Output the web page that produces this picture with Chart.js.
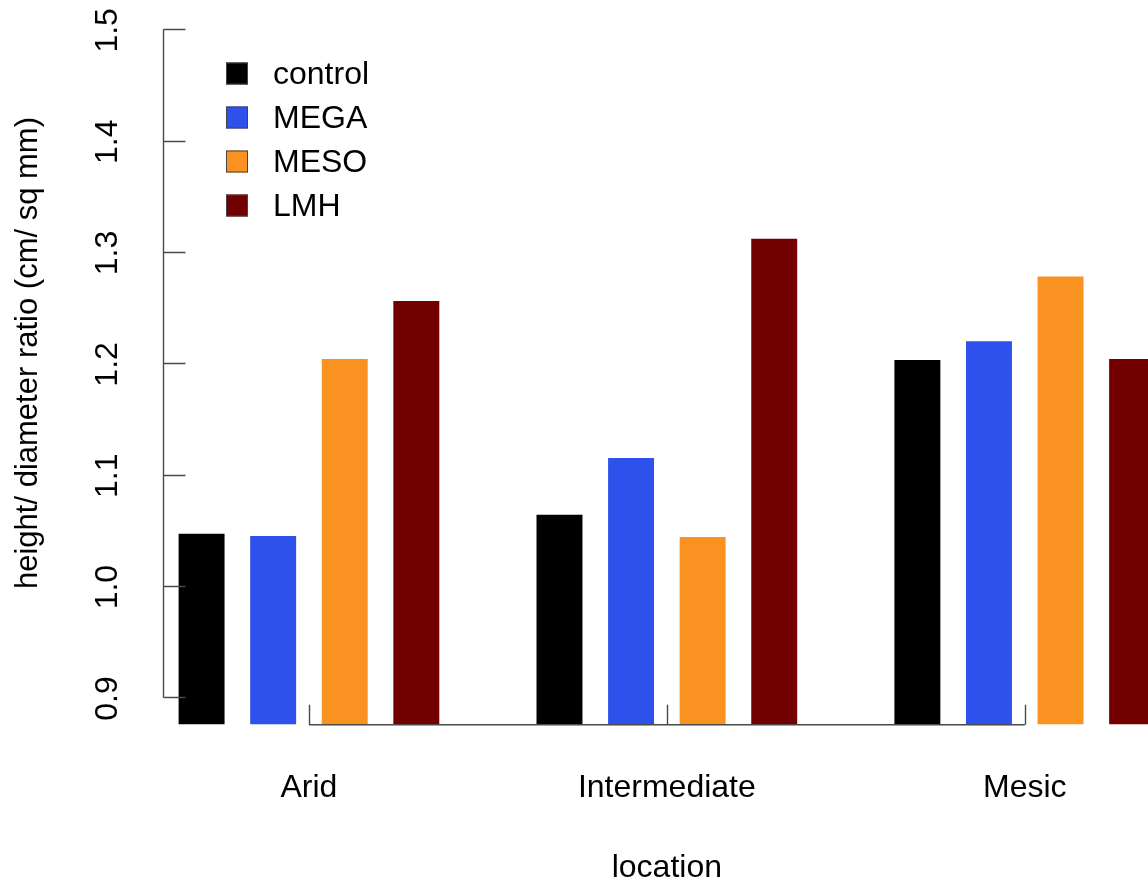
<!DOCTYPE html>
<html>
<head>
<meta charset="utf-8">
<script src="https://cdn.jsdelivr.net/npm/chart.js@4/dist/chart.umd.min.js"></script>
<style>
    html, body { margin: 0; padding: 0; background: #fff; overflow: hidden; }
    #wrap { position: relative; width: 1210px; height: 882px; }
</style>
</head>
<body>
<div id="wrap"><canvas id="barChart"></canvas></div>
<script>
// values
const locations = ["Arid", "Intermediate", "Mesic"];
const seriesNames = ["control", "MEGA", "MESO", "LMH"];
const controlVals = [1.047, 1.064, 1.203];
const megaVals = [1.045, 1.115, 1.220];
const mesoVals = [1.204, 1.044, 1.278];
const lmhVals = [1.256, 1.312, 1.204];
const yTicks = [0.9, 1.0, 1.1, 1.2, 1.3, 1.4, 1.5];
const yTitle = "height/ diameter ratio (cm/ sq mm)";
const xTitle = "location";

const colors = ["#000000", "#2e50eb", "#f99221", "#730000"];
const FONT = "32px 'Liberation Sans', Arial, sans-serif";
const AXIS_COL = "#4a4a4a";

// R style axes, labels and legend
const baseAxes = {
    id: "baseAxes",
    afterDraw(chart) {
        const c = chart.ctx;
        const xs = chart.scales.x, ys = chart.scales.y;
        const area = chart.chartArea;
        const axX = area.left + 33.5;
        const yTop = ys.getPixelForValue(yTicks[yTicks.length - 1]);
        const yBot = ys.getPixelForValue(yTicks[0]);

        c.save();
        c.strokeStyle = AXIS_COL;
        c.lineWidth = 1.4;
        // y axis
        c.beginPath();
        c.moveTo(axX, yTop);
        c.lineTo(axX, yBot);
        yTicks.forEach(v => {
            const py = Math.round(ys.getPixelForValue(v)) + 0.5;
            c.moveTo(axX, py);
            c.lineTo(axX + 22, py);
        });
        c.stroke();

        // x axis (between first and last group centre)
        const x0 = xs.getPixelForValue(0);
        const x1 = xs.getPixelForValue(locations.length - 1);
        const by = area.bottom + 0.5;
        c.beginPath();
        c.moveTo(x0, by);
        c.lineTo(x1, by);
        locations.forEach((l, i) => {
            const px = Math.round(xs.getPixelForValue(i)) + 0.5;
            c.moveTo(px, by);
            c.lineTo(px, by - 20);
        });
        c.stroke();

        c.fillStyle = "#000";
        c.font = FONT;
        // y tick labels (rotated)
        yTicks.forEach(v => {
            c.save();
            c.translate(117, ys.getPixelForValue(v) + 1);
            c.rotate(-Math.PI / 2);
            c.textAlign = "center";
            c.textBaseline = "alphabetic";
            c.fillText(v.toFixed(1), 0, 0);
            c.restore();
        });
        // y title
        c.save();
        c.font = "31px 'Liberation Sans', Arial, sans-serif";
        c.translate(37, 353);
        c.rotate(-Math.PI / 2);
        c.textAlign = "center";
        c.textBaseline = "alphabetic";
        c.fillText(yTitle, 0, 0);
        c.restore();

        // category labels + x title
        c.textAlign = "center";
        c.textBaseline = "alphabetic";
        locations.forEach((l, i) => {
            c.fillText(l, xs.getPixelForValue(i), 797);
        });
        c.fillText(xTitle, xs.getPixelForValue(1), 877);

        // legend
        c.textAlign = "left";
        c.textBaseline = "middle";
        seriesNames.forEach((n, i) => {
            const cy = 73.5 + i * 44;
            c.fillStyle = colors[i];
            c.fillRect(226, cy - 11, 22, 22);
            c.strokeStyle = "#444";
            c.lineWidth = 1;
            c.strokeRect(226.5, cy - 10.5, 21, 21);
            c.fillStyle = "#000";
            c.fillText(n, 273, cy + 2);
        });
        c.restore();
    }
};

const allVals = [controlVals, megaVals, mesoVals, lmhVals];

new Chart(document.getElementById("barChart").getContext("2d"), {
    type: "bar",
    data: {
        labels: locations,
        datasets: seriesNames.map((n, i) => ({
            label: n,
            data: allVals[i],
            backgroundColor: colors[i],
            borderWidth: 0,
            categoryPercentage: 0.8,
            barPercentage: 0.642
        }))
    },
    options: {
        responsive: true,
        maintainAspectRatio: false,
        animation: false,
        layout: { padding: { left: 130, right: 6.3, top: 2.6, bottom: 157.8 } },
        scales: {
            x: { display: false, offset: true },
            y: { display: false, min: 0.876, max: 1.524 }
        },
        plugins: {
            legend: { display: false },
            tooltip: { enabled: false }
        }
    },
    plugins: [baseAxes]
});
</script>
</body>
</html>
